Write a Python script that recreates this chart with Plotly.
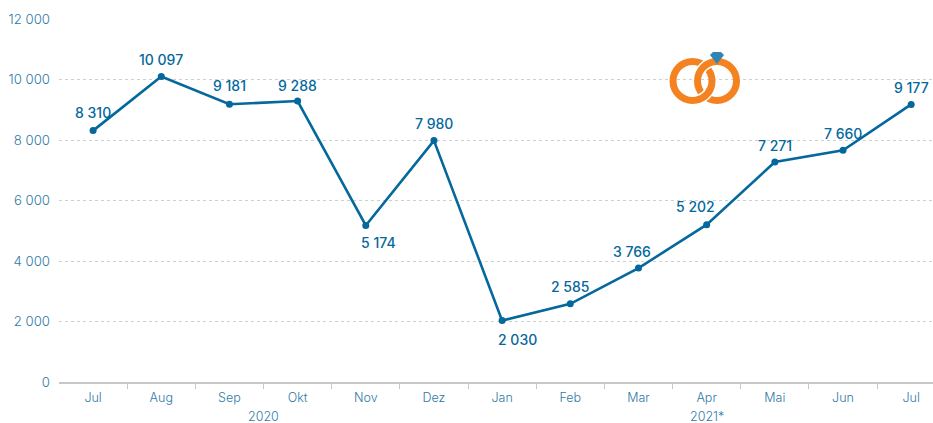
import plotly.graph_objects as go

months = ["Jul", "Aug", "Sep", "Okt", "Nov", "Dez", "Jan", "Feb", "Mar", "Apr", "Mai", "Jun", "Jul"]
values = [8310, 10097, 9181, 9288, 5174, 7980, 2030, 2585, 3766, 5202, 7271, 7660, 9177]
labels = ["8 310", "10 097", "9 181", "9 288", "5 174", "7 980", "2 030", "2 585", "3 766", "5 202", "7 271", "7 660", "9 177"]
year_names = ["2020", "2021*"]
year_months = [6, 7]
y_ticks = [0, 2000, 4000, 6000, 8000, 10000, 12000]
y_labels = ["0", "2 000", "4 000", "6 000", "8 000", "10 000", "12 000"]

# label nudges in pixels, styling only
label_dx = [0, 0, 0, 0, 13, 0, 15, 0, -6, -11, 0, 0, 0]
label_dy = [18, 17, 19, 16, -17, 17, -19, 17, 17, 18, 17, 17, 17]

BLUE = "#04689c"
TICK = "#2f7aa6"
FONT = "Inter"
ORANGE = "#f58220"

positions = list(range(len(months)))
fig = go.Figure(go.Scatter(
    x=positions, y=values, mode="lines+markers",
    line=dict(color=BLUE, width=2.6), marker=dict(color=BLUE, size=7),
    cliponaxis=False, hoverinfo="skip",
))

annotations = [
    dict(x=x, y=v, text=t, showarrow=False, xshift=dx, yshift=dy, xanchor="center", yanchor="middle",
         font=dict(family=FONT, size=14, color=BLUE, weight=500))
    for x, v, t, dx, dy in zip(positions, values, labels, label_dx, label_dy)
]
start = 0
for name, n in zip(year_names, year_months):
    annotations.append(dict(
        x=start + (n - 1) / 2, y=0, yref="y", text=name, showarrow=False, yshift=-34,
        xanchor="center", yanchor="middle", font=dict(family=FONT, size=12.5, color=TICK, weight=300)))
    start += n


def anchor(cx, cy):
    return dict(xref="paper", yref="paper", xsizemode="pixel", ysizemode="pixel",
                xanchor=(cx - 59) / 874, yanchor=(382 - cy) / 363, layer="above")


def ring(cx, cy, color, width, r):
    return dict(type="circle", x0=-r, x1=r, y0=-r, y1=r, line=dict(color=color, width=width), **anchor(cx, cy))


def arc(cx, cy, color, width, path):
    return dict(type="path", path=path, line=dict(color=color, width=width), **anchor(cx, cy))


shapes = [
    ring(692.5, 81, ORANGE, 7, 19.5),
    arc(717, 81, "white", 10, "M-15.97,11.18 C-13.87,14.17 -10.98,16.53 -7.62,17.95"),
    ring(717, 81, ORANGE, 7, 19.5),
    arc(692.5, 81, "white", 10, "M15.97,-11.18 C13.87,-14.17 10.98,-16.53 7.62,-17.95"),
    arc(692.5, 81, ORANGE, 7, "M17.67,-8.24 C15.23,-13.46 10.61,-17.35 5.05,-18.84"),
    dict(type="path", path="M-7,-3 L-4,0 L4,0 L7,-3 L0,-12 Z", fillcolor="#2f86b5", line=dict(width=0),
         **anchor(717, 52)),
]

fig.update_layout(
    width=933, height=423, autosize=False,
    margin=dict(l=59, r=0, t=19, b=41, autoexpand=False),
    paper_bgcolor="white", plot_bgcolor="white", showlegend=False,
    font=dict(family=FONT, size=12, color=TICK),
    shapes=shapes, annotations=annotations,
    xaxis=dict(
        range=[-0.5, 12.32], automargin=False, showgrid=False, showline=True, zeroline=False,
        linecolor="#c8c8c8", linewidth=1.5,
        tickmode="array", tickvals=positions, ticktext=months, ticks="", ticklabelstandoff=3,
        tickfont=dict(family=FONT, size=12.5, color=TICK, weight=300),
        minor=dict(tickmode="array", tickvals=[p + 0.5 for p in positions[:-1]], ticks="outside",
                   ticklen=5, tickcolor="#c8c8c8", showgrid=False),
    ),
    yaxis=dict(
        range=[0, 12000], automargin=False, tickmode="array", tickvals=y_ticks, ticktext=y_labels,
        showgrid=True, gridcolor="#cfcfcf", griddash="3px,3px", gridwidth=1,
        zeroline=False, showline=False, ticks="", ticklabelstandoff=8,
        tickfont=dict(family=FONT, size=13.2, color=TICK, weight=300),
    ),
)
fig.write_html("out.html", config={"displayModeBar": False},
               post_script="document.body.style.margin='0';document.documentElement.style.overflow='hidden';")
